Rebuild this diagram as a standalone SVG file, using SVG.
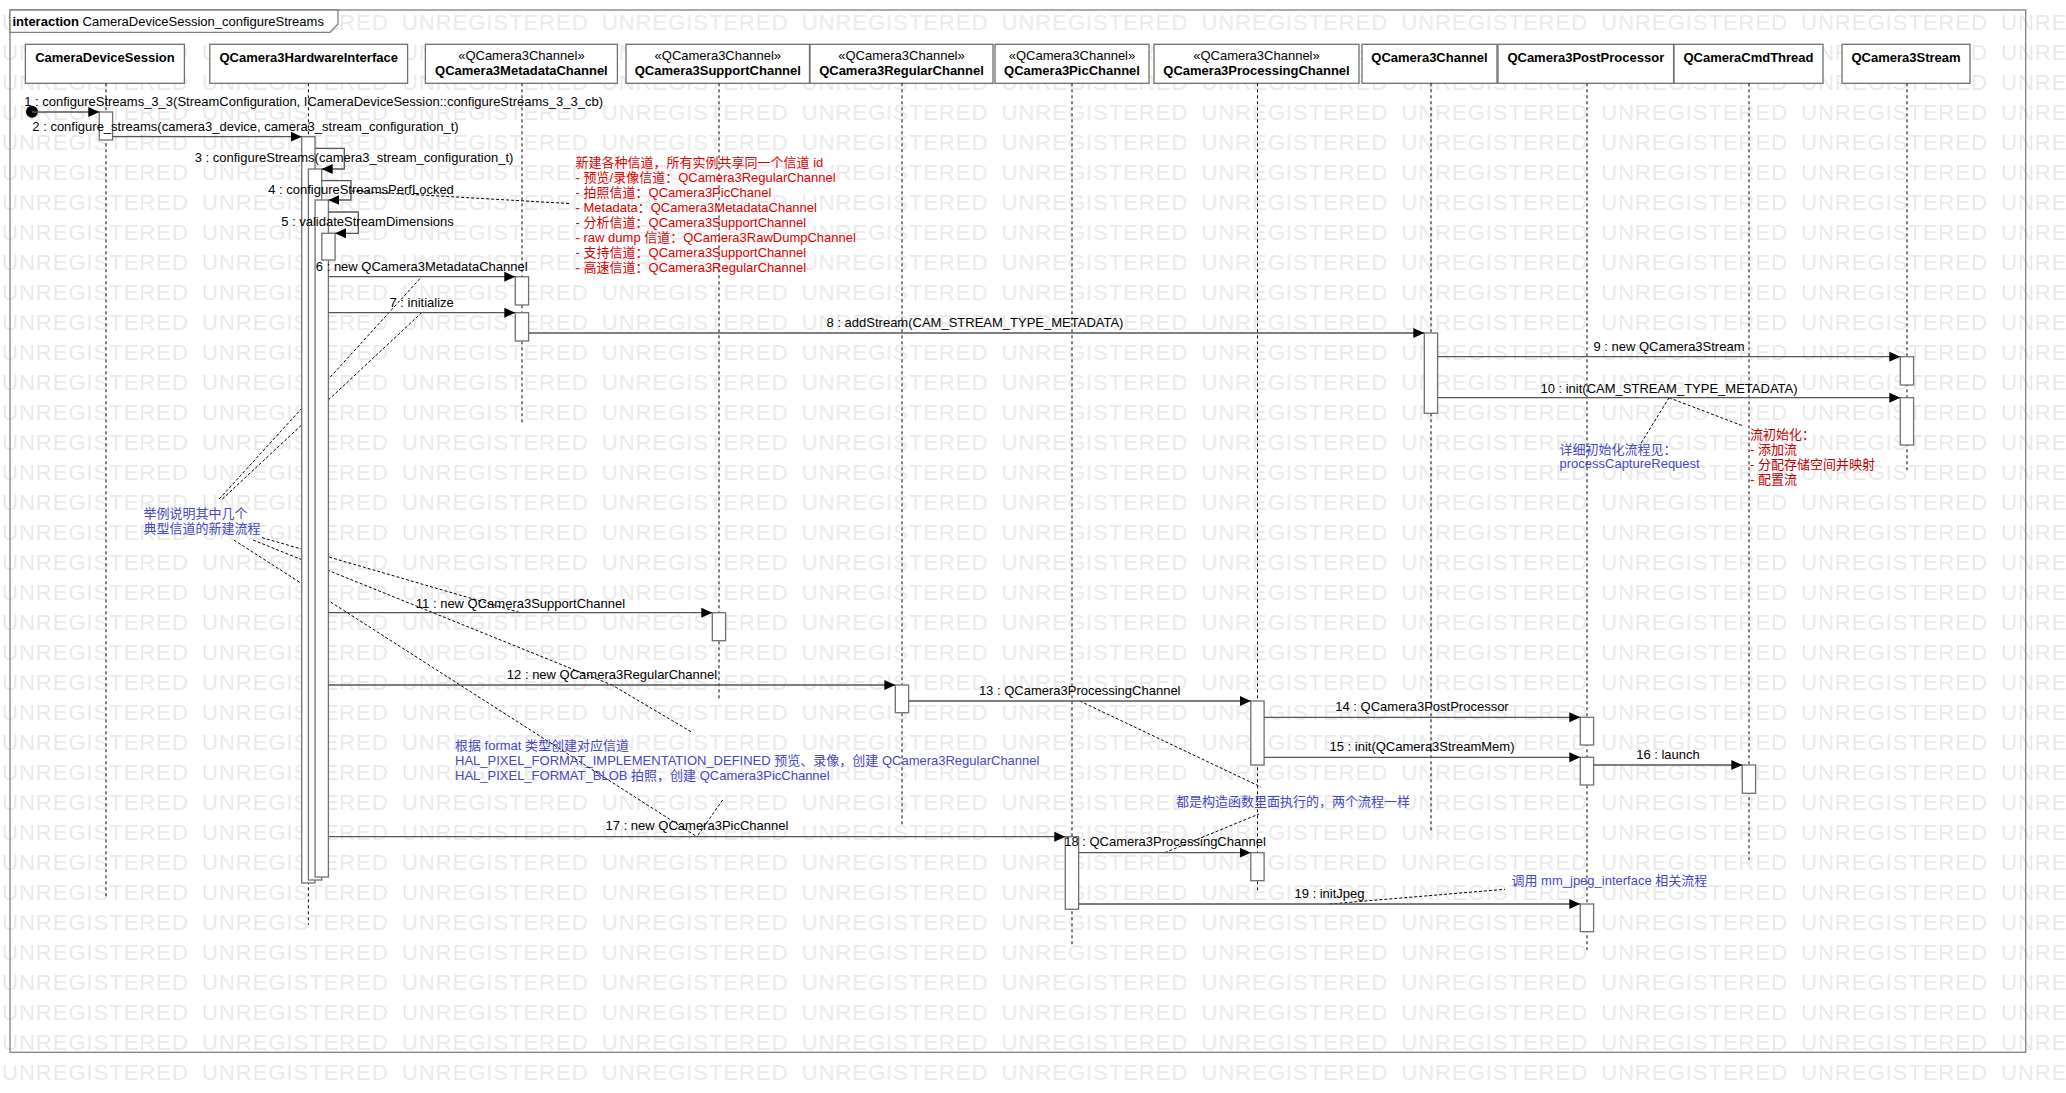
<svg xmlns="http://www.w3.org/2000/svg" width="2066" height="1093" viewBox="0 0 2066 1093">
<defs>
<style>
text{font-family:"Liberation Sans",Arial,"Noto Sans CJK SC",sans-serif;font-size:13px;fill:#000}
.wm{font-size:22.3px;fill:#e9e9e9;letter-spacing:0.8px}
.hb{fill:#fff;stroke:#707070;stroke-width:1.3}
.nm{font-weight:bold;text-anchor:middle}
.st{text-anchor:middle}
.ll{stroke:#000;stroke-width:1;stroke-dasharray:3 3;fill:none}
.act{fill:#fff;stroke:#707070;stroke-width:1.3}
.msg{stroke:#555;stroke-width:1.3;fill:none;marker-end:url(#ah)}
.lbl{text-anchor:middle}
.lnk{stroke:#000;stroke-width:1;stroke-dasharray:3 2;fill:none}
.red{fill:#e00000}
.dred{fill:#c00000}
.blue{fill:#4646c8}
</style>
<marker id="ah" markerUnits="userSpaceOnUse" markerWidth="12" markerHeight="11" refX="11" refY="5" orient="auto"><path d="M0,0 L11,5 L0,10 z" fill="#000"/></marker>
<pattern id="wmp" patternUnits="userSpaceOnUse" x="2" y="5" width="199.9" height="30"><text class="wm" x="0" y="24.5">UNREGISTERED</text></pattern>
</defs>
<rect x="0" y="0" width="2066" height="1093" fill="#fff"/>
<rect id="watermark" x="0" y="0" width="2066" height="1093" fill="url(#wmp)"/>

<g id="frame">
<rect x="10" y="10" width="2015.7" height="1042.3" fill="none" stroke="#808080" stroke-width="1.3"/>
<path d="M10,10 H338 V24 L330,32.3 H10 Z" fill="#fff" stroke="#808080" stroke-width="1.3"/>
<text x="12.5" y="25.5"><tspan font-weight="bold">interaction</tspan> CameraDeviceSession_configureStreams</text>
</g>

<g id="n-cds"><rect class="hb" x="25.4" y="44.3" width="159" height="39"/><text class="nm" x="104.9" y="61.5">CameraDeviceSession</text><line class="ll" x1="106" y1="83.3" x2="106" y2="897"/></g>
<g id="n-hwi"><rect class="hb" x="209.8" y="44.3" width="197.8" height="39"/><text class="nm" x="308.7" y="61.5">QCamera3HardwareInterface</text><line class="ll" x1="308.4" y1="83.3" x2="308.4" y2="925"/></g>
<g id="n-meta"><rect class="hb" x="425.4" y="44.3" width="192" height="39"/><text class="st" x="521.4" y="59.5">«QCamera3Channel»</text><text class="nm" x="521.4" y="74.5">QCamera3MetadataChannel</text><line class="ll" x1="522" y1="83.3" x2="522" y2="423"/></g>
<g id="n-support"><rect class="hb" x="626" y="44.3" width="183.5" height="39"/><text class="st" x="717.8" y="59.5">«QCamera3Channel»</text><text class="nm" x="717.8" y="74.5">QCamera3SupportChannel</text><line class="ll" x1="719" y1="83.3" x2="719" y2="700"/></g>
<g id="n-regular"><rect class="hb" x="810" y="44.3" width="183" height="39"/><text class="st" x="901.5" y="59.5">«QCamera3Channel»</text><text class="nm" x="901.5" y="74.5">QCamera3RegularChannel</text><line class="ll" x1="902" y1="83.3" x2="902" y2="825"/></g>
<g id="n-pic"><rect class="hb" x="995" y="44.3" width="154" height="39"/><text class="st" x="1072" y="59.5">«QCamera3Channel»</text><text class="nm" x="1072" y="74.5">QCamera3PicChannel</text><line class="ll" x1="1072" y1="83.3" x2="1072" y2="945"/></g>
<g id="n-proc"><rect class="hb" x="1154" y="44.3" width="205" height="39"/><text class="st" x="1256.5" y="59.5">«QCamera3Channel»</text><text class="nm" x="1256.5" y="74.5">QCamera3ProcessingChannel</text><line class="ll" x1="1257.5" y1="83.3" x2="1257.5" y2="892"/></g>
<g id="n-chan"><rect class="hb" x="1362" y="44.3" width="135" height="39"/><text class="nm" x="1429.5" y="61.5">QCamera3Channel</text><line class="ll" x1="1431" y1="83.3" x2="1431" y2="832"/></g>
<g id="n-post"><rect class="hb" x="1498" y="44.3" width="175.6" height="39"/><text class="nm" x="1585.8" y="61.5">QCamera3PostProcessor</text><line class="ll" x1="1587" y1="83.3" x2="1587" y2="950"/></g>
<g id="n-cmd"><rect class="hb" x="1674" y="44.3" width="149" height="39"/><text class="nm" x="1748.5" y="61.5">QCameraCmdThread</text><line class="ll" x1="1749" y1="83.3" x2="1749" y2="862"/></g>
<g id="n-stream"><rect class="hb" x="1842" y="44.3" width="128" height="39"/><text class="nm" x="1906" y="61.5">QCamera3Stream</text><line class="ll" x1="1907" y1="83.3" x2="1907" y2="472"/></g>

<g id="note-channels">
<text class="red" x="575.6" y="166.5">新建各种信道，所有实例共享同一个信道 id</text>
<text class="red" x="575.6" y="181.5">- 预览/录像信道：QCamera3RegularChannel</text>
<text class="red" x="575.6" y="196.5">- 拍照信道：QCamera3PicChanel</text>
<text class="red" x="575.6" y="211.5">- Metadata：QCamera3MetadataChannel</text>
<text class="red" x="575.6" y="226.5">- 分析信道：QCamera3SupportChannel</text>
<text class="red" x="575.6" y="241.5">- raw dump 信道：QCamera3RawDumpChannel</text>
<text class="red" x="575.6" y="256.5">- 支持信道：QCamera3SupportChannel</text>
<text class="red" x="575.6" y="271.5">- 高速信道：QCamera3RegularChannel</text>
</g>
<g id="note-example">
<text class="blue" x="143.5" y="517.5">举例说明其中几个</text>
<text class="blue" x="143.5" y="532.5">典型信道的新建流程</text>
</g>
<g id="note-format">
<text class="blue" x="455" y="749.5">根据 format 类型创建对应信道</text>
<text class="blue" x="455" y="764.5">HAL_PIXEL_FORMAT_IMPLEMENTATION_DEFINED 预览、录像，创建 QCamera3RegularChannel</text>
<text class="blue" x="455" y="779.5">HAL_PIXEL_FORMAT_BLOB 拍照，创建 QCamera3PicChannel</text>
</g>
<g id="note-ctor"><text class="blue" x="1176" y="806">都是构造函数里面执行的，两个流程一样</text></g>
<g id="note-jpeg"><text class="blue" x="1511.5" y="885">调用 mm_jpeg_interface 相关流程</text></g>
<g id="note-detail">
<text class="blue" x="1559.5" y="453.5">详细初始化流程见：</text>
<text class="blue" x="1559.5" y="468">processCaptureRequest</text>
</g>
<g id="note-streaminit">
<text class="dred" x="1750" y="438.5">流初始化：</text>
<text class="dred" x="1750" y="453.5">- 添加流</text>
<text class="dred" x="1750" y="468.5">- 分配存储空间并映射</text>
<text class="dred" x="1750" y="484">- 配置流</text>
</g>

<g id="note-links">
<line class="lnk" x1="569" y1="203.5" x2="351" y2="191"/>
<line class="lnk" x1="219.2" y1="499" x2="421.7" y2="276.7"/>
<line class="lnk" x1="222.4" y1="499" x2="421.7" y2="312.7"/>
<line class="lnk" x1="262" y1="537.6" x2="520.4" y2="612.7"/>
<line class="lnk" x1="253" y1="540" x2="611.9" y2="685"/>
<line class="lnk" x1="233.8" y1="540" x2="696.9" y2="836.7"/>
<line class="lnk" x1="691" y1="731.7" x2="611.9" y2="685"/>
<line class="lnk" x1="722.6" y1="800" x2="696.9" y2="836.7"/>
<line class="lnk" x1="1079.7" y1="701" x2="1261" y2="787"/>
<line class="lnk" x1="1164.7" y1="852.7" x2="1259" y2="814"/>
<line class="lnk" x1="1329.5" y1="904" x2="1505" y2="889.3"/>
<line class="lnk" x1="1669" y1="397.7" x2="1641" y2="443.3"/>
<line class="lnk" x1="1669" y1="397.7" x2="1743" y2="426"/>
</g>

<g id="activations">
<rect class="act" x="99.3" y="112" width="13.3" height="28"/>
<rect class="act" x="301.7" y="136.7" width="13.3" height="746.3"/>
<rect class="act" x="308.4" y="169" width="13.3" height="711"/>
<rect class="act" x="315.1" y="200" width="13.3" height="677"/>
<rect class="act" x="321.8" y="233.3" width="13.3" height="26.7"/>
<rect class="act" x="515.3" y="276.7" width="13.3" height="28.3"/>
<rect class="act" x="515.3" y="312.7" width="13.3" height="28.3"/>
<rect class="act" x="712.3" y="612.7" width="13.3" height="28"/>
<rect class="act" x="895.3" y="685" width="13.3" height="27.7"/>
<rect class="act" x="1065.3" y="836.7" width="13.3" height="72.6"/>
<rect class="act" x="1250.8" y="701" width="13.3" height="64"/>
<rect class="act" x="1250.8" y="852.7" width="13.3" height="28"/>
<rect class="act" x="1424.3" y="333" width="13.3" height="80.3"/>
<rect class="act" x="1580.3" y="717.3" width="13.3" height="27.7"/>
<rect class="act" x="1580.3" y="757.3" width="13.3" height="27.7"/>
<rect class="act" x="1580.3" y="904" width="13.3" height="27.7"/>
<rect class="act" x="1742.3" y="765" width="13.3" height="28.3"/>
<rect class="act" x="1900.3" y="356.7" width="13.3" height="28.3"/>
<rect class="act" x="1900.3" y="397.7" width="13.3" height="47.3"/>
</g>

<g id="connectors">
<g id="messages">
<circle cx="32" cy="111.7" r="6" fill="#000"/>
<path class="msg" d="M32,112 H99.3"/>
<path class="msg" d="M112.6,136.7 H301.7"/>
<path class="msg" d="M315,148.3 H344.3 V169 H321.7"/>
<path class="msg" d="M321.7,180.7 H351 V200 H328.4"/>
<path class="msg" d="M328.4,212 H358.3 V233.3 H335.1"/>
<path class="msg" d="M328.4,276.7 H515.3"/>
<path class="msg" d="M328.4,312.7 H515.3"/>
<path class="msg" d="M528.6,333 H1424.3"/>
<path class="msg" d="M1437.6,356.7 H1900.3"/>
<path class="msg" d="M1437.6,397.7 H1900.3"/>
<path class="msg" d="M328.4,612.7 H712.3"/>
<path class="msg" d="M328.4,685 H895.3"/>
<path class="msg" d="M908.6,701 H1250.8"/>
<path class="msg" d="M1264.1,717.3 H1580.3"/>
<path class="msg" d="M1264.1,757.3 H1580.3"/>
<path class="msg" d="M1593.6,765 H1742.3"/>
<path class="msg" d="M328.4,836.7 H1065.3"/>
<path class="msg" d="M1078.6,852.7 H1250.8"/>
<path class="msg" d="M1078.6,904 H1580.3"/>
</g>
<g id="message-labels">
<text class="lbl" x="313.6" y="106">1 : configureStreams_3_3(StreamConfiguration, ICameraDeviceSession::configureStreams_3_3_cb)</text>
<text class="lbl" x="245.5" y="131">2 : configure_streams(camera3_device, camera3_stream_configuration_t)</text>
<text class="lbl" x="354" y="162">3 : configureStreams(camera3_stream_configuration_t)</text>
<text class="lbl" x="361" y="194">4 : configureStreamsPerfLocked</text>
<text class="lbl" x="367.5" y="226">5 : validateStreamDimensions</text>
<text class="lbl" x="421.7" y="271">6 : new QCamera3MetadataChannel</text>
<text class="lbl" x="421.7" y="307">7 : initialize</text>
<text class="lbl" x="975" y="327">8 : addStream(CAM_STREAM_TYPE_METADATA)</text>
<text class="lbl" x="1669" y="351">9 : new QCamera3Stream</text>
<text class="lbl" x="1669" y="392.5">10 : init(CAM_STREAM_TYPE_METADATA)</text>
<text class="lbl" x="520.5" y="607.5">11 : new QCamera3SupportChannel</text>
<text class="lbl" x="612" y="679">12 : new QCamera3RegularChannel</text>
<text class="lbl" x="1079.7" y="695">13 : QCamera3ProcessingChannel</text>
<text class="lbl" x="1422" y="711">14 : QCamera3PostProcessor</text>
<text class="lbl" x="1422" y="751">15 : init(QCamera3StreamMem)</text>
<text class="lbl" x="1668" y="758.5">16 : launch</text>
<text class="lbl" x="697" y="830">17 : new QCamera3PicChannel</text>
<text class="lbl" x="1165" y="846">18 : QCamera3ProcessingChannel</text>
<text class="lbl" x="1329.5" y="897.5">19 : initJpeg</text>
</g>
</g>
</svg>
